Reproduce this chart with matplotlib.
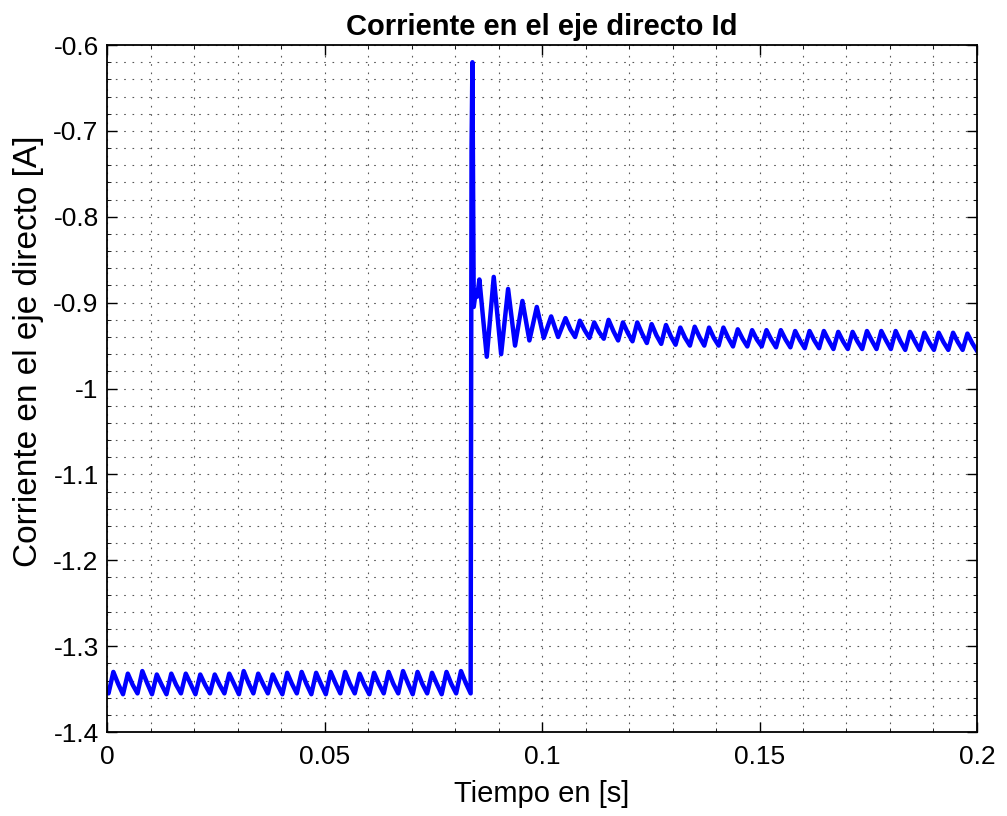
import numpy as np
import matplotlib
matplotlib.use('Agg')
import matplotlib.pyplot as plt
from matplotlib.ticker import MultipleLocator, FormatStrFormatter

plt.rcParams['font.family'] = ['Liberation Sans', 'DejaVu Sans']
plt.rcParams['axes.unicode_minus'] = False

# Rizado de 300 Hz: tres muestras por periodo
T_ANTES = 0.00333
T_DESPUES = 0.0033

# Antes del escalón: valle, pico y hombro de cada ciclo (+ valle final)
valles_antes = [-1.355, -1.356, -1.355, -1.356, -1.356, -1.355, -1.356, -1.355, -1.355,
                -1.356, -1.355, -1.355, -1.356, -1.355, -1.356, -1.356, -1.355, -1.355,
                -1.356, -1.355, -1.355, -1.356, -1.355, -1.356, -1.355, -1.355]
picos_antes = [-1.330, -1.332, -1.329, -1.333, -1.332, -1.332, -1.333, -1.333, -1.332,
               -1.329, -1.332, -1.333, -1.331, -1.330, -1.331, -1.330, -1.330, -1.332,
               -1.331, -1.330, -1.329, -1.330, -1.331, -1.330, -1.329]
hombros_antes = [-1.344, -1.345, -1.343, -1.345, -1.345, -1.344, -1.345, -1.345, -1.344,
                 -1.343, -1.344, -1.345, -1.344, -1.344, -1.344, -1.343, -1.344, -1.345,
                 -1.344, -1.344, -1.343, -1.344, -1.344, -1.344, -1.343]

# Escalón y transitorio (picos y valles leídos uno a uno)
t_transitorio = [0.0838, 0.0840, 0.0843, 0.0848, 0.0851, 0.0856, 0.0873, 0.0889, 0.0906,
                 0.0922, 0.0938, 0.0955, 0.0971, 0.0988, 0.1004, 0.1021, 0.1037]
id_transitorio = [-0.720, -0.620, -0.905, -0.886, -0.893, -0.873, -0.963, -0.870, -0.960,
                  -0.884, -0.950, -0.898, -0.944, -0.905, -0.941, -0.916, -0.940]

# Régimen final: pico, hombro y valle de cada ciclo
picos_despues = [-0.918, -0.921, -0.923, -0.920, -0.923, -0.923, -0.925, -0.926, -0.929,
                 -0.928, -0.929, -0.929, -0.931, -0.932, -0.932, -0.932, -0.933, -0.933,
                 -0.933, -0.934, -0.934, -0.933, -0.933, -0.933, -0.934, -0.935, -0.935,
                 -0.935, -0.936]
hombros_despues = [-0.931, -0.932, -0.934, -0.933, -0.935, -0.936, -0.938, -0.939, -0.941,
                   -0.940, -0.941, -0.941, -0.942, -0.943, -0.943, -0.943, -0.944, -0.944,
                   -0.944, -0.945, -0.945, -0.944, -0.944, -0.945, -0.945, -0.946, -0.946,
                   -0.946, -0.947]
valles_despues = [-0.940, -0.941, -0.942, -0.944, -0.945, -0.947, -0.948, -0.949, -0.950,
                  -0.950, -0.950, -0.951, -0.951, -0.951, -0.952, -0.952, -0.953, -0.953,
                  -0.954, -0.954, -0.954, -0.954, -0.954, -0.955, -0.955, -0.955, -0.955,
                  -0.955, -0.956]

# Montaje de la señal completa
id_antes = np.append(np.column_stack([valles_antes[:-1], picos_antes, hombros_antes]).ravel(),
                     valles_antes[-1])
t_antes = 0.00034 + np.arange(len(id_antes)) * T_ANTES / 3

id_despues = np.column_stack([picos_despues, hombros_despues, valles_despues]).ravel()
t_despues = 0.1054 + np.arange(len(id_despues)) * T_DESPUES / 3

t = np.concatenate([[0.0], t_antes, t_transitorio, t_despues])
id_corriente = np.concatenate([[-1.350], id_antes, id_transitorio, id_despues])

fig = plt.figure(figsize=(10.07, 8.16), dpi=100)
ax = fig.add_axes([0.1063, 0.1029, 0.8639, 0.8419])

ax.plot(t, id_corriente, color='#0000ff', linewidth=3.2, solid_joinstyle='round')

ax.set_xlim(0, 0.2)
ax.set_ylim(-1.4, -0.6)
ax.xaxis.set_major_locator(MultipleLocator(0.05))
ax.xaxis.set_minor_locator(MultipleLocator(0.01))
ax.yaxis.set_major_locator(MultipleLocator(0.1))
ax.yaxis.set_minor_locator(MultipleLocator(0.02))
ax.xaxis.set_major_formatter(FormatStrFormatter('%g'))
ax.yaxis.set_major_formatter(FormatStrFormatter('%g'))

ax.tick_params(which='both', direction='in', top=True, right=True, labelsize=19,
               colors='black')
ax.tick_params(which='major', length=7, width=1.0)
ax.tick_params(axis='x', which='major', pad=9)
ax.tick_params(axis='y', which='major', pad=6)
ax.tick_params(which='minor', length=3, width=0.6)

punteado = (0, (1.5, 6))
ax.grid(which='major', color='0.35', linestyle=punteado, linewidth=0.8)
ax.grid(which='minor', color='0.35', linestyle=punteado, linewidth=0.8)

for lado in ax.spines.values():
    lado.set_linewidth(1.3)
    lado.set_color('black')

ax.set_title('Corriente en el eje directo Id', fontsize=21, fontweight='bold', pad=7)
ax.set_xlabel('Tiempo en [s]', fontsize=21, labelpad=8)
ax.set_ylabel('Corriente en el eje directo [A]', fontsize=24)
ax.yaxis.set_label_coords(-0.072, 0.555)

fig.savefig('out.png', dpi=100)
